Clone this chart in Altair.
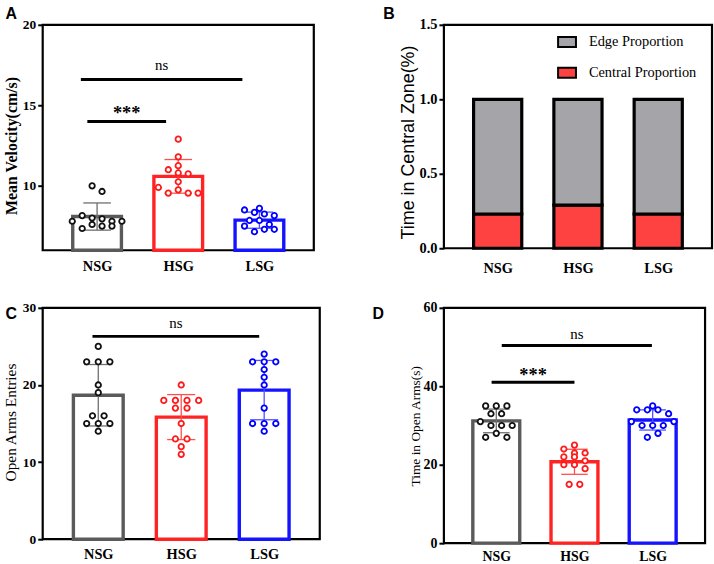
import altair as alt
import pandas as pd

GROUPS = ["NSG", "HSG", "LSG"]

# A: mean velocity (cm/s), one value per animal
velocity_nsg = [10.0, 9.65, 7.8, 8.15, 8.0, 7.95, 7.8, 7.8, 7.35, 7.6, 7.5, 7.5]
velocity_hsg = [12.9, 11.8, 11.0, 11.25, 10.8, 10.75, 10.25, 9.9, 9.55, 9.75, 9.55, 9.55]
velocity_lsg = [8.6, 8.5, 8.35, 8.25, 8.15, 7.85, 7.85, 7.5, 7.6, 7.15, 7.3, 7.3]

# B: share of time spent in the central zone (edge = remainder)
central_prop = [0.23, 0.29, 0.23]

# C: open-arm entries
entries_nsg = [25, 23, 23, 23, 20, 19, 16, 16, 15, 15, 15, 14]
entries_hsg = [20, 18, 18, 18, 18, 17, 17, 15, 13, 13, 12, 11]
entries_lsg = [24, 23, 23, 23, 22, 21, 20, 17, 15, 15, 15, 14]

# D: time in open arms (s)
time_nsg = [35, 35, 35, 33, 33, 31, 30, 30, 30, 27, 28, 27]
time_hsg = [25, 24, 23, 23, 22, 22, 21, 20, 20, 19, 15, 15]
time_lsg = [35, 34, 34, 34, 33, 31, 30, 30, 30, 31, 27, 28]

# significance brackets: (group a, group b, height, label)
sig_velocity = [("NSG", "LSG", 16.6, "ns"), ("NSG", "HSG", 14.0, "***")]
sig_entries = [("NSG", "LSG", 26.3, "ns")]
sig_time = [("NSG", "LSG", 50.4, "ns"), ("NSG", "HSG", 41.0, "***")]

# ---------------------------------------------------------------- styling
PAD = 0.67          # x-domain padding around the three group slots
BAR_HALF = 0.30     # half bar width in slot units
CAP_HALF = 0.17     # half error-cap width in slot units
SERIF = "Liberation Serif"
SANS = "Liberation Sans"

BAR_STROKE = ["#5a5a5a", "#ff2424", "#1414ff"]
ERR_COLOR = ["#6e6e6e", "#ff5050", "#5050ff"]
PT_COLOR = ["#111111", "#ff1a1a", "#0000ff"]


def swarm_offsets(vals, ppu_y, row_px, max_row=6):
    """Group nearby values into rows and centre each row (column-scatter layout)."""
    order = sorted(range(len(vals)), key=lambda i: (vals[i], i))
    rows, cur, start = [], [], None
    for i in order:
        if cur and ((vals[i] - start) * ppu_y > row_px or len(cur) >= max_row):
            rows.append(cur)
            cur = []
        if not cur:
            start = vals[i]
        cur.append(i)
    if cur:
        rows.append(cur)
    offs = [0.0] * len(vals)
    for r in rows:
        r = sorted(r)
        for k, i in enumerate(r):
            offs[i] = k - (len(r) - 1) / 2
    return offs


def x_axis(size, pad):
    return alt.Axis(values=[0, 1, 2], labelExpr="['NSG','HSG','LSG'][datum.value]",
                    title=None, ticks=False, domain=False, grid=False,
                    labelFont=SERIF, labelFontWeight="bold", labelFontSize=size,
                    labelColor="black", labelPadding=pad)


def y_axis(ticks, title, tfont, tsize, tweight, tx, ty, lsize, fmt=None):
    kw = dict(values=ticks, title=title, titleFont=tfont, titleFontSize=tsize,
              titleFontWeight=tweight, titleColor="black", titleX=tx, titleY=ty,
              titleAngle=270, titleBaseline="middle", titleAlign="center",
              labelFont=SERIF, labelFontWeight="bold", labelFontSize=lsize,
              labelColor="black", labelPadding=2, tickSize=5, tickWidth=2,
              tickColor="black", domain=False, grid=False)
    if fmt:
        kw["format"] = fmt
    return alt.Axis(**kw)


def letter_layer(letter, lx, ly):
    return alt.Chart(pd.DataFrame({"t": [letter]})).mark_text(
        font=SANS, fontWeight="bold", fontSize=16, align="center", baseline="middle",
        color="black").encode(x=alt.value(lx), y=alt.value(ly), text="t:N")


def scatter_panel(series, cfg):
    w, h = cfg["width"], cfg["height"]
    y0, y1 = cfg["ydomain"]
    ppu_x = w / (2 + 2 * PAD)
    ppu_y = h / (y1 - y0)
    recs = []
    for gi, g in enumerate(GROUPS):
        vals = series[gi]
        offs = swarm_offsets(vals, ppu_y, cfg["row_px"])
        for v, o in zip(vals, offs):
            recs.append(dict(group=g, idx=gi, value=v,
                             xpos=gi + o * cfg["step_px"] / ppu_x))
    pts = pd.DataFrame(recs)

    xs = alt.Scale(domain=[-PAD, 2 + PAD], nice=False, zero=False)
    ys = alt.Scale(domain=[y0, y1], nice=False, zero=False)
    xa = x_axis(cfg["xlabel_size"], cfg["xlabel_pad"])
    ya = y_axis(cfg["yticks"], cfg["ytitle"], cfg["tfont"], cfg["tsize"], cfg["tweight"],
                cfg["tx"], cfg["ty"], cfg["ylabel_size"])

    def X(f):
        return alt.X(f, type="quantitative", scale=xs, axis=xa)

    def Y(f):
        return alt.Y(f, type="quantitative", scale=ys, axis=ya)

    gscale = lambda rng: alt.Scale(domain=GROUPS, range=rng)

    base = alt.Chart(pts)
    stats = base.transform_aggregate(
        mean="mean(value)", sd="stdev(value)", groupby=["group", "idx"]
    ).transform_calculate(
        bx1=f"datum.idx - {BAR_HALF}", bx2=f"datum.idx + {BAR_HALF}",
        cx1=f"datum.idx - {CAP_HALF}", cx2=f"datum.idx + {CAP_HALF}",
        lo="datum.mean - datum.sd", hi="datum.mean + datum.sd", floor=str(y0),
    )

    bars = stats.mark_bar(fill="white", strokeWidth=3.4, strokeJoin="miter").encode(
        x=X("bx1"), x2="bx2:Q", y=Y("mean"), y2="floor:Q",
        stroke=alt.Stroke("group:N", scale=gscale(BAR_STROKE), legend=None))
    err = stats.mark_rule(strokeWidth=1.3).encode(
        x=X("idx"), y=Y("lo"), y2="hi:Q",
        color=alt.Color("group:N", scale=gscale(ERR_COLOR), legend=None))
    cap_hi = stats.mark_rule(strokeWidth=1.3).encode(
        x=X("cx1"), x2="cx2:Q", y=Y("hi"),
        color=alt.Color("group:N", scale=gscale(ERR_COLOR), legend=None))
    cap_lo = stats.mark_rule(strokeWidth=1.3).encode(
        x=X("cx1"), x2="cx2:Q", y=Y("lo"),
        color=alt.Color("group:N", scale=gscale(ERR_COLOR), legend=None))
    dots = base.mark_point(shape="circle", fill="white", fillOpacity=1, opacity=1,
                           size=30, strokeWidth=1.8).encode(
        x=X("xpos"), y=Y("value"),
        stroke=alt.Stroke("group:N", scale=gscale(PT_COLOR), legend=None))

    sig_rows = []
    for (ga, gb, yv, lab), (oa, ob) in zip(cfg["sig"], cfg["sig_off"]):
        xa_ = GROUPS.index(ga) + oa
        xb_ = GROUPS.index(gb) + ob
        sig_rows.append(dict(x1=xa_, x2=xb_, xm=(xa_ + xb_) / 2, y=yv, label=lab))
    sig = alt.Chart(pd.DataFrame(sig_rows))
    sig_lines = sig.mark_rule(strokeWidth=3, color="black").encode(
        x=X("x1"), x2="x2:Q", y=Y("y"))
    ns_text = sig.transform_filter("datum.label == 'ns'").mark_text(
        font=SERIF, fontSize=15, baseline="alphabetic", dy=cfg["ns_dy"],
        color="black").encode(x=X("xm"), y=Y("y"), text="label:N")
    star_text = sig.transform_filter("datum.label != 'ns'").mark_text(
        font=SERIF, fontWeight="bold", fontSize=18.5, baseline="alphabetic",
        dy=cfg["star_dy"], color="black").encode(x=X("xm"), y=Y("y"), text="label:N")

    layers = [bars, err, cap_hi, cap_lo, dots, sig_lines, ns_text, star_text,
              letter_layer(cfg["letter"], *cfg["letter_xy"])]
    if cfg.get("anchor"):
        ax, ay = cfg["anchor"]
        layers.append(alt.Chart(pd.DataFrame({"k": [0]})).mark_rule(opacity=0).encode(
            x=alt.value(ax), x2=alt.value(ax), y=alt.value(ay), y2=alt.value(ay)))
    return alt.layer(*layers).resolve_scale(stroke="independent", color="independent").properties(
        width=w, height=h)


panel_a = scatter_panel(
    [velocity_nsg, velocity_hsg, velocity_lsg],
    dict(width=273, height=227, ydomain=(6, 20), yticks=[10, 15, 20],
         ytitle="Mean Velocity(cm/s)", tfont=SERIF, tsize=16, tweight="bold",
         tx=-31.4, ty=121.5, ylabel_size=13.5, xlabel_size=14.5, xlabel_pad=9.5,
         row_px=6.5, step_px=10, sig=sig_velocity, sig_off=[(-0.20, -0.21), (-0.12, -0.15)],
         ns_dy=-10, star_dy=-2, letter="A", letter_xy=(-31.7, -11), anchor=(-41.7, -21)))

panel_c = scatter_panel(
    [entries_nsg, entries_hsg, entries_lsg],
    dict(width=279, height=233, ydomain=(0, 30), yticks=[0, 10, 20, 30],
         ytitle="Open Arms Entries", tfont=SERIF, tsize=15.5, tweight="normal",
         tx=-32.2, ty=115, ylabel_size=13.5, xlabel_size=14.5, xlabel_pad=8.5,
         row_px=7.5, step_px=11.7, sig=sig_entries, sig_off=[(-0.07, -0.06)],
         ns_dy=-8.5, star_dy=-2, letter="C", letter_xy=(-31.7, 6.5)))

panel_d = scatter_panel(
    [time_nsg, time_hsg, time_lsg],
    dict(width=263, height=237, ydomain=(0, 60), yticks=[0, 20, 40, 60],
         ytitle="Time in Open Arms(s)", tfont=SERIF, tsize=13.5, tweight="normal",
         tx=-28.7, ty=118.8, ylabel_size=14, xlabel_size=14, xlabel_pad=6.5,
         row_px=7.5, step_px=10.7, sig=sig_time, sig_off=[(0.07, -0.01), (-0.06, 0.0)],
         ns_dy=-7, star_dy=-1, letter="D", letter_xy=(-66.2, 6)))

# ---------------------------------------------------------------- panel B
b_rows = []
for gi, g in enumerate(GROUPS):
    c = central_prop[gi]
    b_rows.append(dict(group=g, idx=gi, part="Central Proportion", lo=0.0, hi=c))
    b_rows.append(dict(group=g, idx=gi, part="Edge Proportion", lo=c, hi=1.0))
b_df = pd.DataFrame(b_rows)

b_xs = alt.Scale(domain=[-PAD, 2 + PAD], nice=False, zero=False)
b_ys = alt.Scale(domain=[0, 1.5], nice=False, zero=False)
b_xa = x_axis(14.5, 13.5)
b_ya = y_axis([0, 0.5, 1.0, 1.5], "Time in Central Zone(%)", SANS, 18, "normal",
              -35.7, 118, 14.5, fmt=".1f")

# the legend lives in the figure's root group, so its position is measured
# from the top-left corner of panel A's plot area
b_bars = alt.Chart(b_df).transform_calculate(
    bx1=f"datum.idx - {BAR_HALF}", bx2=f"datum.idx + {BAR_HALF}"
).mark_bar(stroke="black", strokeWidth=3.2, strokeJoin="miter", opacity=1).encode(
    x=alt.X("bx1:Q", scale=b_xs, axis=b_xa),
    x2="bx2:Q",
    y=alt.Y("hi:Q", scale=b_ys, axis=b_ya),
    y2="lo:Q",
    fill=alt.Fill("part:N",
                  scale=alt.Scale(domain=["Edge Proportion", "Central Proportion"],
                                  range=["#a5a5a9", "#fe4242"]),
                  legend=alt.Legend(orient="none", legendX=518, legendY=7.3, title=None,
                                    symbolType="M-1,-0.55H1V0.55H-1Z", symbolSize=324,
                                    symbolStrokeColor="black", symbolStrokeWidth=2,
                                    symbolOpacity=1, labelFont=SERIF, labelFontSize=14.5,
                                    labelColor="black", labelOffset=12, rowPadding=12)),
)
panel_b = alt.layer(b_bars, letter_layer("B", -55.2, -11)).properties(width=270, height=225)

chart = alt.concat(
    panel_a, panel_b, panel_c, panel_d,
    columns=2, bounds="flush", spacing={"row": 58, "column": 125},
    align={"row": "each", "column": "none"},
).properties(padding=0, background="white").configure_view(
    stroke="black", strokeWidth=2.2
)

chart.save("out.html", embed_options={"renderer": "svg", "actions": False})
